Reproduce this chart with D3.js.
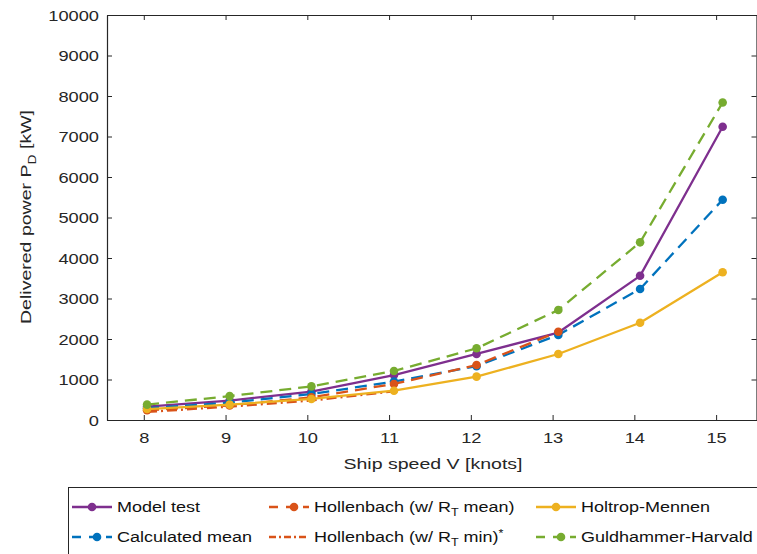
<!DOCTYPE html>
<html>
<head>
<meta charset="utf-8">
<script src="https://cdn.jsdelivr.net/npm/d3@7"></script>
<style>
  html, body { margin: 0; padding: 0; background: #fff; }
  svg { display: block; font-family: "Liberation Sans", Arial, Helvetica, sans-serif; }
</style>
</head>
<body>
<svg id="chart" width="757" height="554"></svg>
<script>
// Ship speed [knots] at each measured point
const speeds = [8.04, 9.05, 10.05, 11.06, 12.07, 13.07, 14.07, 15.08];

// Delivered power P_D [kW] per prediction method
const modelTest        = [330, 480, 700, 1110, 1630, 2160, 3560, 7240];
const calculatedMean   = [290, 430, 640, 950, 1330, 2100, 3235, 5440];
const hollenbachMean   = [240, 360, 560, 890, 1358, 2180];
const hollenbachMin    = [200, 330, 480, 710];
const holtropMennen    = [270, 380, 520, 724, 1070, 1630, 2400, 3647];
const guldhammer       = [380, 590, 830, 1210, 1770, 2716, 4387, 7840];

const xTicks = [8, 9, 10, 11, 12, 13, 14, 15];
const yTicks = [0, 1000, 2000, 3000, 4000, 5000, 6000, 7000, 8000, 9000, 10000];

const series = [
  { name: "Model test",        values: modelTest,      color: "#7E2F8E", dash: null,          marker: true },
  { name: "Calculated mean",   values: calculatedMean, color: "#0072BD", dash: "12,7",        marker: true },
  { name: "Hollenbach mean",   values: hollenbachMean, color: "#D95319", dash: "12,7",        marker: true },
  { name: "Hollenbach min",    values: hollenbachMin,  color: "#D95319", dash: "10,4,2,4",    marker: false },
  { name: "Holtrop-Mennen",    values: holtropMennen,  color: "#EDB120", dash: null,          marker: true },
  { name: "Guldhammer-Harvald",values: guldhammer,     color: "#77AC30", dash: "12,7",        marker: true }
];

const svg = d3.select("#chart");
const axisColor = "#262626";
const stretch = 1.26;        // horizontal widening of the axis lettering
const legendStretch = 1.2;   // horizontal widening of the legend lettering
const plot = { left: 107, right: 757, top: 15, bottom: 420 };

const x = d3.scaleLinear().domain([7.55, 15.5]).range([plot.left, plot.right]);
const y = d3.scaleLinear().domain([0, 10000]).range([plot.bottom, plot.top]);

// Axes box with inward ticks on all four sides
const gx = svg.append("g").attr("transform", `translate(0,${plot.bottom})`)
  .call(d3.axisBottom(x).tickValues(xTicks).tickSizeInner(-5).tickSizeOuter(0).tickPadding(13)
    .tickFormat(d3.format("d")));
const gy = svg.append("g").attr("transform", `translate(${plot.left},0)`)
  .call(d3.axisLeft(y).tickValues(yTicks).tickSizeInner(-5).tickSizeOuter(0).tickPadding(8)
    .tickFormat(d3.format("d")));
const gt = svg.append("g").attr("transform", `translate(0,${plot.top})`)
  .call(d3.axisTop(x).tickValues(xTicks).tickSizeInner(-5).tickSizeOuter(0).tickFormat(""));
const gr = svg.append("g").attr("transform", `translate(${plot.right - 0.5},0)`)
  .call(d3.axisRight(y).tickValues(yTicks).tickSizeInner(-5).tickSizeOuter(0).tickFormat(""));

[gx, gy, gt, gr].forEach(g => {
  g.selectAll(".domain").attr("stroke", axisColor).attr("stroke-width", 1.2);
  g.selectAll(".tick line").attr("stroke", axisColor).attr("stroke-width", 1);
  g.selectAll(".tick text").attr("fill", axisColor).style("font-size", "14.5px")
    .style("font-family", "'Liberation Sans', Arial, sans-serif")
    .attr("transform", `scale(${stretch},1)`);
});
gy.selectAll(".tick text").attr("dy", "0.35em")
  .attr("x", -8 / stretch);

// Axis titles
svg.append("text")
  .attr("transform", `translate(433,469) scale(${stretch},1)`)
  .attr("text-anchor", "middle").attr("fill", axisColor).style("font-size", "15.5px")
  .text("Ship speed V [knots]");

const yl = svg.append("text")
  .attr("transform", `translate(31,217) rotate(-90) scale(${stretch},1)`)
  .attr("text-anchor", "middle").attr("fill", axisColor).style("font-size", "15.5px");
yl.append("tspan").text("Delivered power P");
yl.append("tspan").attr("dy", 5).style("font-size", "11px").text("D");
yl.append("tspan").attr("dy", -5).text(" [kW]");

// Series lines and markers
const line = d3.line().x((d, i) => x(speeds[i])).y(d => y(d));
const plotG = svg.append("g");
series.forEach(s => {
  const g = plotG.append("g");
  g.append("path")
    .attr("d", line(s.values))
    .attr("fill", "none")
    .attr("stroke", s.color)
    .attr("stroke-width", 2.3)
    .attr("stroke-linejoin", "round")
    .attr("stroke-dasharray", s.dash);
  if (s.marker) {
    g.selectAll("circle").data(s.values).join("circle")
      .attr("cx", (d, i) => x(speeds[i]))
      .attr("cy", d => y(d))
      .attr("r", 4.3)
      .attr("fill", s.color);
  }
});

// Legend
const leg = svg.append("g");
leg.append("rect")
  .attr("x", 68.5).attr("y", 487.5).attr("width", 700).attr("height", 80)
  .attr("fill", "#fff").attr("stroke", axisColor).attr("stroke-width", 1);

const legendItems = [
  { s: 0, col: 0, row: 0, label: ["Model test"] },
  { s: 1, col: 0, row: 1, label: ["Calculated mean"] },
  { s: 2, col: 1, row: 0, label: ["Hollenbach (w/ R", "T", " mean)"] },
  { s: 3, col: 1, row: 1, label: ["Hollenbach (w/ R", "T", " min)", "*"] },
  { s: 4, col: 2, row: 0, label: ["Holtrop-Mennen"] },
  { s: 5, col: 2, row: 1, label: ["Guldhammer-Harvald"] }
];
const colX = [72, 269, 536];
const rowY = [507, 537];
legendItems.forEach(it => {
  const s = series[it.s];
  const x0 = colX[it.col], yy = rowY[it.row];
  const g = leg.append("g");
  g.append("line")
    .attr("x1", x0).attr("x2", x0 + 40).attr("y1", yy).attr("y2", yy)
    .attr("stroke", s.color).attr("stroke-width", 2.3)
    .attr("stroke-dasharray", s.dash ? (it.s === 3 ? "7,3,2,3" : "9,8") : null);
  if (s.marker) {
    g.append("circle").attr("cx", x0 + 20 + (s.dash ? 5 : 0)).attr("cy", yy).attr("r", 4.3).attr("fill", s.color);
  }
  const t = g.append("text")
    .attr("transform", `translate(${x0 + 45},${yy + 5}) scale(${legendStretch},1)`)
    .attr("fill", "#111").style("font-size", "15px");
  if (it.label.length === 1) {
    t.text(it.label[0]);
  } else {
    t.append("tspan").text(it.label[0]);
    t.append("tspan").attr("dy", 4).style("font-size", "10.5px").text(it.label[1]);
    t.append("tspan").attr("dy", -4).text(it.label[2]);
    if (it.label[3]) t.append("tspan").attr("dy", -5).style("font-size", "10.5px").text(it.label[3]);
  }
});
</script>
</body>
</html>
